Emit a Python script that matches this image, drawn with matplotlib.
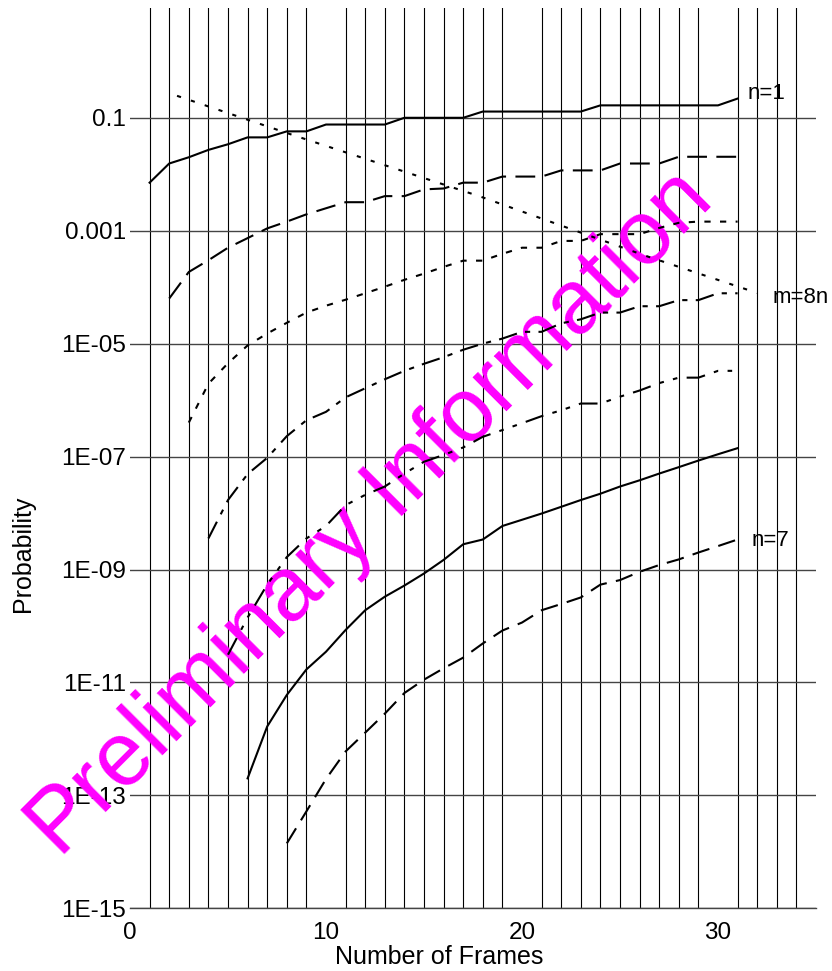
import matplotlib
matplotlib.use("Agg")
import matplotlib.pyplot as plt

plt.rcParams['font.family'] = ['Liberation Sans', 'DejaVu Sans']

# probability vs number of frames, one curve per n
x_n1 = list(range(1, 32))
p_n1 = [7.1e-3, 1.55e-2, 2.0e-2, 2.7e-2, 3.4e-2, 4.5e-2, 4.5e-2, 5.75e-2, 5.75e-2,
        7.6e-2, 7.6e-2, 7.6e-2, 7.6e-2, 0.1, 0.1, 0.1, 0.1,
        0.129, 0.129, 0.129, 0.129, 0.129, 0.129,
        0.166, 0.166, 0.166, 0.166, 0.166, 0.166, 0.166, 0.219]

x_n2 = list(range(2, 32))
p_n2 = [6.3e-5, 1.86e-4, 3.0e-4, 5.0e-4, 7.4e-4, 1.1e-3, 1.45e-3, 1.95e-3, 2.5e-3,
        3.2e-3, 3.2e-3, 4.1e-3, 4.1e-3, 5.4e-3, 5.6e-3, 7.1e-3, 7.1e-3,
        9.1e-3, 9.1e-3, 9.1e-3, 1.17e-2, 1.17e-2, 1.17e-2, 1.55e-2, 1.55e-2, 1.55e-2,
        2.04e-2, 2.04e-2, 2.04e-2, 2.04e-2]

x_n3 = list(range(3, 32))
p_n3 = [4.0e-7, 1.95e-6, 4.5e-6, 9.3e-6, 1.51e-5, 2.34e-5, 3.55e-5, 4.7e-5, 6.0e-5,
        7.8e-5, 1.02e-4, 1.35e-4, 1.74e-4, 2.29e-4, 2.95e-4, 2.95e-4, 3.9e-4,
        5.0e-4, 5.0e-4, 6.6e-4, 6.6e-4, 8.7e-4, 8.7e-4, 8.7e-4, 1.12e-3, 1.38e-3,
        1.45e-3, 1.45e-3, 1.45e-3]

x_n4 = list(range(4, 32))
p_n4 = [3.55e-9, 1.7e-8, 4.9e-8, 9.5e-8, 2.3e-7, 4.4e-7, 6.2e-7, 1.12e-6, 1.62e-6,
        2.34e-6, 3.3e-6, 4.4e-6, 5.75e-6, 7.8e-6, 1.0e-5, 1.23e-5, 1.62e-5, 1.62e-5,
        2.29e-5, 2.7e-5, 3.55e-5, 3.55e-5, 4.6e-5, 4.6e-5, 5.9e-5, 5.9e-5, 7.8e-5, 7.8e-5]

x_n5 = list(range(5, 32))
p_n5 = [3.1e-11, 1.41e-10, 5.4e-10, 1.66e-9, 3.55e-9, 5.9e-9, 1.38e-8, 2.1e-8, 2.95e-8,
        5.0e-8, 8.1e-8, 1.07e-7, 1.45e-7, 2.24e-7, 2.95e-7, 3.9e-7, 5.2e-7, 6.6e-7,
        8.7e-7, 8.7e-7, 1.15e-6, 1.48e-6, 2.0e-6, 2.5e-6, 2.5e-6, 3.3e-6, 3.3e-6]

x_n6 = list(range(6, 32))
p_n6 = [2.0e-13, 1.66e-12, 6.0e-12, 1.7e-11, 3.5e-11, 8.5e-11, 1.9e-10, 3.3e-10, 5.2e-10,
        8.5e-10, 1.48e-9, 2.8e-9, 3.4e-9, 5.9e-9, 7.6e-9, 9.8e-9, 1.29e-8, 1.7e-8,
        2.2e-8, 2.95e-8, 3.8e-8, 5.0e-8, 6.5e-8, 8.5e-8, 1.1e-7, 1.41e-7]

x_n7 = list(range(8, 32))
p_n7 = [1.41e-14, 5.2e-14, 1.95e-13, 6.0e-13, 1.29e-12, 2.8e-12, 6.5e-12, 1.12e-11,
        1.78e-11, 2.75e-11, 4.9e-11, 8.3e-11, 1.15e-10, 1.9e-10, 2.45e-10, 3.2e-10,
        5.4e-10, 6.5e-10, 9.1e-10, 1.2e-9, 1.51e-9, 2.0e-9, 2.6e-9, 3.4e-9]

# m = 8n reference line
x_m8n = [2.4, 8.2, 17.9, 26.2, 32.0]
p_m8n = [0.245, 0.051, 4.0e-3, 3.7e-4, 7.9e-5]

y_ticks = [1e-15, 1e-13, 1e-11, 1e-9, 1e-7, 1e-5, 1e-3, 1e-1]
y_labels = ["1E-15", "1E-13", "1E-11", "1E-09", "1E-07", "1E-05", "0.001", "0.1"]
x_ticks = [0, 10, 20, 30]

W, H = 832, 971
fig = plt.figure(figsize=(W / 100, H / 100), dpi=100)
ax = fig.add_axes([130 / W, 1 - 908.3 / H, 686 / W, 900.3 / H])
ax.set_yscale('log')
ax.set_xlim(0, 35)
ax.set_ylim(1e-15, 8.8)

ax.set_xticks(x_ticks)
ax.set_xticks(range(1, 35), minor=True)
ax.set_yticks(y_ticks)
ax.set_yticklabels(y_labels)
ax.yaxis.set_minor_locator(matplotlib.ticker.NullLocator())
ax.tick_params(which='both', length=0)
ax.tick_params(axis='x', pad=10, labelsize=17.5)
ax.tick_params(axis='y', pad=3, labelsize=17.5)

ax.xaxis.grid(True, which='minor', color='black', lw=0.8)
ax.yaxis.grid(True, which='major', color='#444444', lw=1.0)
ax.set_axisbelow(True)
for s in ['top', 'right', 'left']:
    ax.spines[s].set_visible(False)
ax.spines['bottom'].set_color('#444444')
ax.spines['bottom'].set_linewidth(1.0)

lw = 1.5
ax.plot(x_n1, p_n1, color='k', lw=lw)
ax.plot(x_n2, p_n2, color='k', lw=lw, dashes=[9.5, 4.5])
ax.plot(x_n3, p_n3, color='k', lw=lw, dashes=[3, 4.5])
ax.plot(x_n4, p_n4, color='k', lw=lw, dashes=[9, 4, 2.5, 4])
ax.plot(x_n5, p_n5, color='k', lw=lw, dashes=[9, 4.5, 2.2, 4.5, 2.2, 4.5])
ax.plot(x_n6, p_n6, color='k', lw=lw)
ax.plot(x_n7, p_n7, color='k', lw=lw, dashes=[8.5, 4.5])
ax.plot(x_m8n, p_m8n, color='k', lw=lw, dashes=[2, 5])

ax.text(31.5, 0.274, "n=1", fontsize=16, ha='left', va='center')
ax.text(32.8, 6.7e-5, "m=8n", fontsize=16, ha='left', va='center', clip_on=False)
ax.text(31.7, 3.3e-9, "n=7", fontsize=16, ha='left', va='center')

ax.set_xlabel("Number of Frames", fontsize=18)
ax.xaxis.set_label_coords(0.4504, -0.0408)
fig.text(23 / W, 1 - 554 / H, "Probability", rotation=90, ha='center', va='center', fontsize=18)

ax.text(59.4 / W, 1 - 859 / H, "Preliminary Information", transform=fig.transFigure,
        rotation=45, rotation_mode='anchor', ha='left', va='baseline',
        fontsize=65, color='#ff00ff', zorder=1.5, clip_on=False)

fig.savefig("out.png", dpi=100)
